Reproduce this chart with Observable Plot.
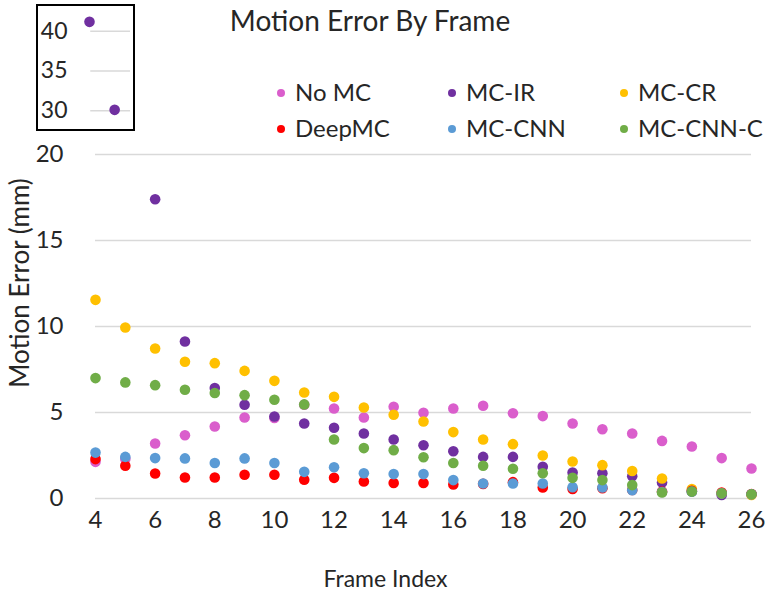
<!DOCTYPE html>
<html><head><meta charset="utf-8">
<script src="https://cdn.jsdelivr.net/npm/d3@7"></script>
<script src="https://cdn.jsdelivr.net/npm/@observablehq/plot@0.6"></script>
<style>
html,body{margin:0;padding:0;background:#fff;}
#wrap{position:relative;width:771px;height:592px;font-family:Lato,"Open Sans",sans-serif;color:#262626;overflow:hidden;}
#title{position:absolute;left:0;width:740px;top:3px;text-align:center;font-size:28px;line-height:34px;}
.leg{position:absolute;font-size:24px;line-height:29px;white-space:nowrap;}
.leg span.d{display:inline-block;width:8px;height:8px;border-radius:50%;margin-right:10px;vertical-align:middle;position:relative;top:-2px;}
#inset{position:absolute;left:36px;top:4px;width:95px;height:123px;border:2px solid #000;background:#fff;}
#main{position:absolute;left:0;top:0;}
#xlabel{position:absolute;left:0;width:771px;text-align:center;top:564px;font-size:23px;line-height:28px;}
#ylab{position:absolute;left:0;top:0;pointer-events:none;}
</style></head>
<body><div id="wrap"><div id="main"></div><div id="title">Motion Error By Frame</div><div id="legend"></div><div id="inset"></div><div id="xlabel">Frame Index</div>
<svg id="ylab" width="60" height="592"><text transform="translate(19,283) rotate(-90)" text-anchor="middle" dominant-baseline="central" font-family="Lato, 'Open Sans', sans-serif" font-size="26" fill="#262626">Motion Error (mm)</text></svg>
</div>
<script>
const frames = [4,5,6,7,8,9,10,11,12,13,14,15,16,17,18,19,20,21,22,23,24,25,26];
const seriesNames = ["No MC","MC-IR","MC-CR","DeepMC","MC-CNN","MC-CNN-C"];
const seriesColors = ["#DA5ECC","#7030A0","#FFC000","#FF0000","#5B9BD5","#70AD47"];
const noMC    = [2.13,2.3,3.2,3.68,4.19,4.71,4.68,5.45,5.23,4.71,5.33,4.98,5.23,5.39,4.96,4.79,4.36,4.03,3.78,3.35,3.02,2.35,1.74];
const mcIR    = [41.2,30.1,17.4,9.13,6.42,5.45,4.77,4.36,4.11,3.78,3.43,3.1,2.75,2.42,2.42,1.84,1.51,1.47,1.3,0.93,0.4,0.2,0.25];
const mcCR    = [11.55,9.94,8.72,7.95,7.87,7.42,6.84,6.16,5.91,5.29,4.87,4.48,3.86,3.43,3.16,2.5,2.15,1.94,1.6,1.16,0.55,0.3,0.2];
const deepMC  = [2.29,1.9,1.45,1.22,1.22,1.38,1.38,1.09,1.2,0.99,0.9,0.9,0.81,0.85,0.95,0.64,0.55,0.6,0.5,0.4,0.45,0.35,0.26];
const mcCNN   = [2.67,2.42,2.35,2.33,2.06,2.33,2.06,1.55,1.82,1.47,1.42,1.42,1.07,0.87,0.87,0.87,0.66,0.64,0.48,0.38,0.4,0.3,0.25];
const mcCNNC  = [7.0,6.75,6.59,6.32,6.13,6.01,5.74,5.47,3.43,2.93,2.81,2.4,2.06,1.9,1.73,1.47,1.2,1.07,0.78,0.35,0.4,0.3,0.25];
const xTicks = [4,6,8,10,12,14,16,18,20,22,24,26];
const yTicks = [0,5,10,15,20];
const insetTicks = [30,35,40];

const allSeries = [noMC,mcIR,mcCR,deepMC,mcCNN,mcCNNC];
const rows = [];
allSeries.forEach((vals,si)=>vals.forEach((v,i)=>rows.push({series:seriesNames[si],frame:frames[i],value:v})));
const mainRows = rows.filter(d=>d.value<=20);
const insetRows = rows.filter(d=>d.value>20);
const color = {domain:seriesNames, range:seriesColors};

const main = Plot.plot({
  width:771, height:592,
  marginLeft:95, marginRight:20, marginTop:154, marginBottom:94,
  style:{fontFamily:"Lato, 'Open Sans', sans-serif", fontSize:"24px", color:"#262626", background:"transparent"},
  x:{domain:[4,26], ticks:xTicks, tickSize:0, tickPadding:12, label:null, tickFormat:d=>String(d)},
  y:{domain:[0,20], ticks:yTicks, tickSize:0, tickPadding:32, label:null, tickFormat:d=>String(d)},
  color,
  marks:[
    Plot.ruleY(yTicks,{stroke:"#d9d9d9", strokeWidth:1.5}),
    Plot.dot(mainRows,{x:"frame", y:"value", fill:"series", r:5.3, stroke:"none"})
  ]
});
document.getElementById("main").appendChild(main);

const inset = Plot.plot({
  width:95, height:123,
  marginLeft:51, marginRight:3, marginTop:9, marginBottom:3,
  style:{fontFamily:"Lato, 'Open Sans', sans-serif", fontSize:"23px", color:"#262626", background:"transparent", overflow:"visible"},
  x:{domain:[4,5.63], axis:null},
  y:{domain:[28,42], ticks:insetTicks, tickSize:0, tickPadding:22, label:null, tickFormat:d=>String(d)},
  color,
  marks:[
    Plot.ruleY(insetTicks,{x1:4.05, x2:5.63, stroke:"#d9d9d9", strokeWidth:1.5}),
    Plot.dot(insetRows,{x:"frame", y:"value", fill:"series", r:5.3, stroke:"none"})
  ]
});
document.getElementById("inset").appendChild(inset);

const legPos = [[277,77],[448,77],[620,77],[277,113],[448,113],[620,113]];
const leg = document.getElementById("legend");
seriesNames.forEach((n,i)=>{
  const e = document.createElement("div");
  e.className="leg";
  e.style.left=legPos[i][0]+"px"; e.style.top=legPos[i][1]+"px";
  e.innerHTML='<span class="d" style="background:'+seriesColors[i]+'"></span>'+n;
  leg.appendChild(e);
});
</script>
</body></html>
